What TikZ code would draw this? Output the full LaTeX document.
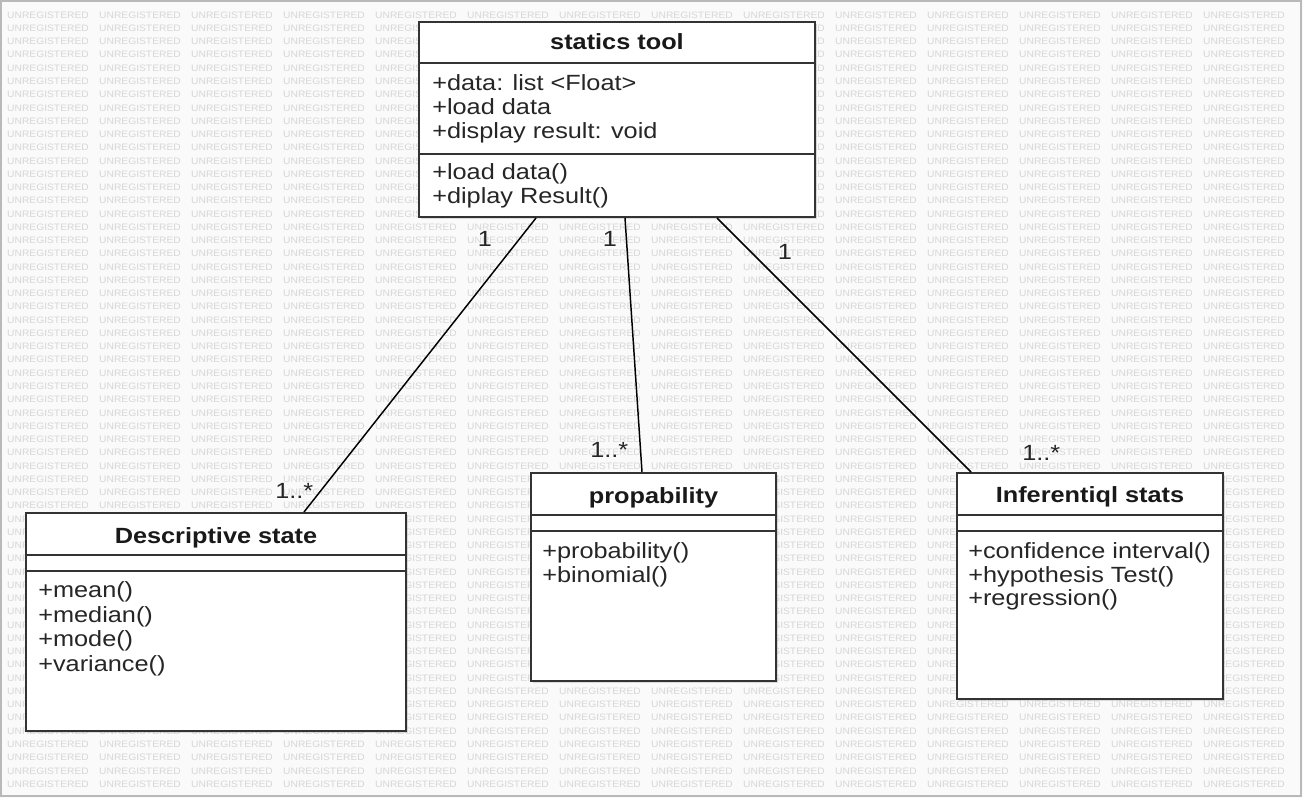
\documentclass[tikz,border=0pt]{standalone}
\usepackage{fontspec}
\usetikzlibrary{fit,calc,shadows}
\newfontfamily\umlfont[FakeStretch=1.15]{Liberation Sans}
\newfontfamily\wmfont[FakeStretch=1.1]{Liberation Sans}
\definecolor{bgcol}{HTML}{FAFAFA}
\definecolor{boxline}{HTML}{333333}
\definecolor{wmcol}{HTML}{D6D6D6}
\tikzset{
  classbox/.style={draw=boxline, line width=1.5pt, fill=white, inner sep=0pt,
    drop shadow={shadow xshift=1.5pt, shadow yshift=-1.5pt, opacity=0.25}},
  divider/.style={draw=boxline, line width=1.5pt},
  titletext/.style={font=\umlfont\bfseries\fontsize{16.5pt}{19pt}\selectfont, anchor=base, inner sep=0pt, text=black!90},
  bodytext/.style={font=\umlfont\fontsize{16.5pt}{19pt}\selectfont, anchor=base west, inner sep=0pt, text=black!85},
  multtext/.style={font=\umlfont\fontsize{16.5pt}{19pt}\selectfont, inner sep=0pt, text=black!85},
  assoc/.style={draw=black, line width=1.1pt},
  wm/.style={font=\wmfont\fontsize{7pt}{8pt}\selectfont, text=wmcol, inner sep=0pt}
}
\begin{document}
\begin{tikzpicture}[x=0.75pt,y=-0.75pt]
\useasboundingbox (0,0) rectangle (1303,798);
\fill[bgcol] (0,0) rectangle (1303,798);
\draw[gray!55, line width=0.8pt] (1,1) rectangle (1301,796);
% watermark
\foreach \r in {0,...,58} {
  \foreach \c in {0,...,13} {
    \node[wm] (wm-\r-\c) at ({48+92*\c},{15+13.26*\r}) {UNREGISTERED};
  }
}
% statics tool
\node[classbox, fit={(419,22)(815,217)}] (tool) {};
\draw[divider] (419,63) -- (815,63);
\draw[divider] (419,154) -- (815,154);
\node[titletext] (toolt) at (617,50) {statics tool};
\node[bodytext] (toola1) at (432,91) {+data: list <Float>};
\node[bodytext] (toola2) at (432,115) {+load data};
\node[bodytext] (toola3) at (432,139) {+display result: void};
\node[bodytext] (toolm1) at (432,180) {+load data()};
\node[bodytext] (toolm2) at (432,204) {+diplay Result()};
% Descriptive state
\node[classbox, fit={(26,513)(406,731)}] (desc) {};
\draw[divider] (26,555) -- (406,555);
\draw[divider] (26,571) -- (406,571);
\node[titletext] (desct) at (216,543) {Descriptive state};
\node[bodytext] (descm1) at (38,597) {+mean()};
\node[bodytext] (descm2) at (38,622) {+median()};
\node[bodytext] (descm3) at (38,646) {+mode()};
\node[bodytext] (descm4) at (38,671) {+variance()};
% propability
\node[classbox, fit={(531,473)(776,681)}] (prob) {};
\draw[divider] (531,515) -- (776,515);
\draw[divider] (531,531) -- (776,531);
\node[titletext] (probt) at (653.5,503) {propability};
\node[bodytext] (probm1) at (542,558) {+probability()};
\node[bodytext] (probm2) at (542,582) {+binomial()};
% Inferentiql stats
\node[classbox, fit={(957,473)(1223,699)}] (inf) {};
\draw[divider] (957,515) -- (1223,515);
\draw[divider] (957,531) -- (1223,531);
\node[titletext] (inft) at (1090,502) {Inferentiql stats};
\node[bodytext] (infm1) at (968,558) {+confidence interval()};
\node[bodytext] (infm2) at (968,582) {+hypothesis Test()};
\node[bodytext] (infm3) at (968,605) {+regression()};
% associations
\draw[assoc] ($(tool.south west)+(118,0)$) -- ($(desc.north west)+(279,0)$);
\draw[assoc] ($(tool.south west)+(207,0)$) -- ($(prob.north west)+(112,0)$);
\draw[assoc] ($(tool.south west)+(299,0)$) -- ($(inf.north west)+(15,0)$);
% multiplicities
\node[multtext, anchor=base] (m1a) at (485,247) {1};
\node[multtext, anchor=base] (m2a) at (610,247) {1};
\node[multtext, anchor=base] (m3a) at (785,260) {1};
\node[multtext, anchor=base west] (m1b) at (275,498) {1..*};
\node[multtext, anchor=base west] (m2b) at (590,458) {1..*};
\node[multtext, anchor=base west] (m3b) at (1022,460) {1..*};
\end{tikzpicture}
\end{document}
